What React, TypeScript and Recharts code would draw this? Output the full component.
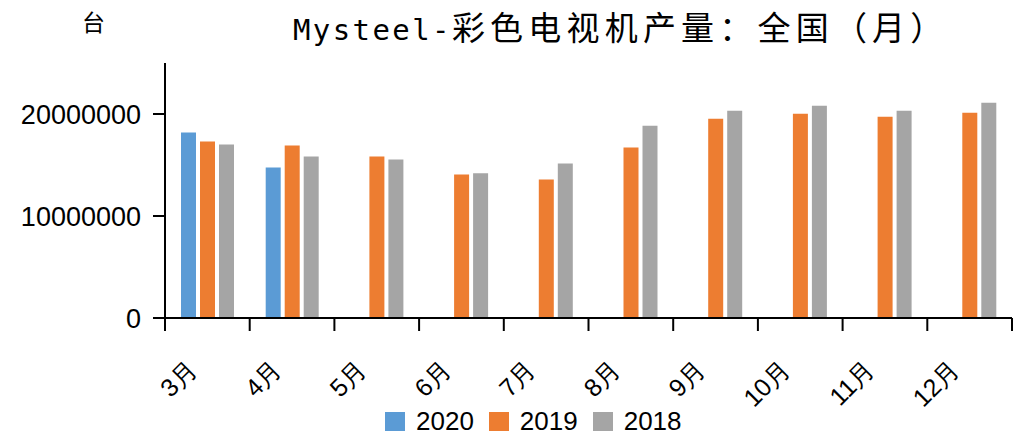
import React from 'react';
import { BarChart, Bar, XAxis, YAxis, Legend } from 'recharts';

const months = ['3月', '4月', '5月', '6月', '7月', '8月', '9月', '10月', '11月', '12月'];
const y2020 = [18180000, 14760000, null, null, null, null, null, null, null, null];
const y2019 = [17300000, 16910000, 15840000, 14080000, 13590000, 16720000, 19540000, 20030000, 19740000, 20130000];
const y2018 = [17010000, 15840000, 15540000, 14180000, 15150000, 18860000, 20330000, 20810000, 20330000, 21100000];
const yTicks = [0, 10000000, 20000000];
const edgeTicks = [0, 1, 2, 3, 4, 5, 6, 7, 8, 9, 10];

const series = [
  { key: '2020', color: '#5B9BD5', values: y2020 },
  { key: '2019', color: '#ED7D31', values: y2019 },
  { key: '2018', color: '#A5A5A5', values: y2018 },
];

const data = months.map((m, i) => ({
  month: m,
  slot: i,
  '2020': y2020[i],
  '2019': y2019[i],
  '2018': y2018[i],
}));

const AXIS_FONT = '"Liberation Sans", Arial, sans-serif';

const MonthTick = (props: any) => {
  const { x, y, payload } = props;
  return (
    <g transform={`translate(${x - 9},${y + 44})`}>
      <text
        textAnchor="end"
        transform="rotate(-45)"
        fontSize={25}
        fontFamily={AXIS_FONT}
        fill="#000"
      >
        {payload.value}
      </text>
    </g>
  );
};

// blank label, only the tick line at each category edge is wanted
const NoLabel = () => <g />;

const LegendContent = () => (
  <div style={{ display: 'flex', alignItems: 'center', height: 32, fontFamily: AXIS_FONT, fontSize: 26 }}>
    {series.map((s) => (
      <div key={s.key} style={{ display: 'flex', alignItems: 'center', marginRight: 15 }}>
        <span style={{ width: 20, height: 19, background: s.color, display: 'inline-block', marginRight: 11 }} />
        <span style={{ color: '#000' }}>{s.key}</span>
      </div>
    ))}
  </div>
);

export default function App() {
  return (
    <div style={{ position: 'relative', width: 1013, height: 434, background: '#fff' }}>
      <style>{'body{margin:0}'}</style>
      <BarChart
        width={1013}
        height={434}
        data={data}
        margin={{ top: 63, right: 1, left: 0, bottom: 3 }}
        barSize={15}
        barGap={4}
      >
        <XAxis
          xAxisId="edges"
          type="number"
          dataKey="slot"
          domain={[0, 10]}
          allowDataOverflow
          ticks={edgeTicks}
          interval={0}
          tick={<NoLabel />}
          axisLine={{ stroke: '#000', strokeWidth: 2 }}
          tickLine={{ stroke: '#000', strokeWidth: 2 }}
          tickSize={13}
          height={1}
        />
        <XAxis
          xAxisId="main"
          dataKey="month"
          interval={0}
          tickLine={false}
          axisLine={false}
          tick={<MonthTick />}
          height={80}
        />
        <YAxis
          width={165}
          domain={[0, 25000000]}
          ticks={yTicks}
          interval={0}
          axisLine={{ stroke: '#000', strokeWidth: 2 }}
          tickLine={{ stroke: '#000', strokeWidth: 2 }}
          tickSize={12}
          tickMargin={12}
          tick={{ fill: '#000', fontSize: 27, fontFamily: AXIS_FONT }}
        />
        <Legend
          content={<LegendContent />}
          wrapperStyle={{ left: 385, top: 405, bottom: 'auto', width: 'auto', height: 32 }}
        />
        {series.map((s) => (
          <Bar key={s.key} xAxisId="main" dataKey={s.key} fill={s.color} isAnimationActive={false} />
        ))}
      </BarChart>
      <svg width={1013} height={60} style={{ position: 'absolute', left: 0, top: 0, pointerEvents: 'none' }}>
        <text x={82} y={31} fontSize={23} fontFamily='"Noto Sans CJK SC", sans-serif' fill="#000">台</text>
        <text x={293} y={40} fill="#000">
          <tspan fontFamily='"DejaVu Sans Mono", monospace' fontSize={29} letterSpacing={2.4}>Mysteel-</tspan>
          <tspan fontFamily='"Noto Sans CJK SC", sans-serif' fontSize={33} letterSpacing={5.2}>彩色电视机产量：全国（月）</tspan>
        </text>
      </svg>
    </div>
  );
}
